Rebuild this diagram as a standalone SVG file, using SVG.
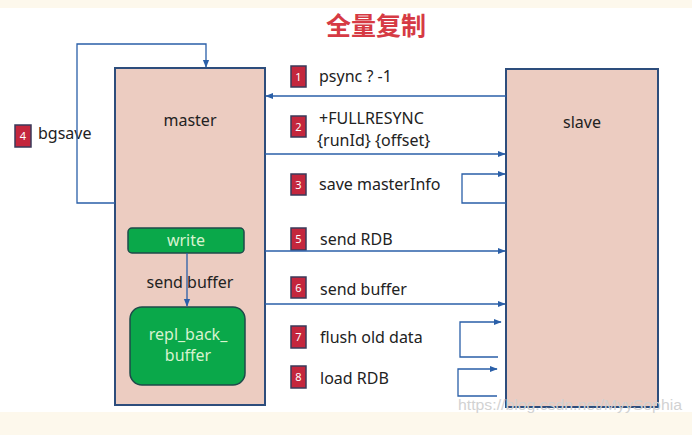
<svg xmlns="http://www.w3.org/2000/svg" width="692" height="435" viewBox="0 0 692 435">
<defs>
<marker id="ah" viewBox="0 0 10 10" refX="9" refY="5" markerWidth="6" markerHeight="6" orient="auto"><path d="M0,1 L10,5 L0,9 z" fill="#2a5fa8"/></marker>
<style>
.box{fill:#ecccc1;stroke:#2d4d7c;stroke-width:2}
.g{fill:#0aa84a;stroke:#1e4a4a;stroke-width:1.5}
.t{font-family:"Noto Sans","Open Sans",sans-serif;font-size:16px;fill:#222}
.gt{font-family:"Noto Sans","Open Sans",sans-serif;font-size:16px;fill:#d8f3cf;text-anchor:middle}
.bd{fill:#c4263d;stroke:#3a3a5a;stroke-width:1.5}
.bn{font-family:"Noto Sans",sans-serif;font-size:11px;fill:#fff;text-anchor:middle}
.c{fill:none;stroke:#2a5fa8;stroke-width:1.3}
</style>
</defs>
<rect width="692" height="435" fill="#ffffff"/>
<rect y="412" width="692" height="23" fill="#fdf8ec"/>
<rect width="692" height="8" fill="#fdf8ec"/>
<text x="376" y="35" text-anchor="middle" font-family="Noto Sans CJK SC,sans-serif" font-size="25" font-weight="bold" fill="#d63a44">全量复制</text>

<g id="master"><rect class="box" x="115" y="68" width="150" height="337"/><text class="t" x="190" y="126" text-anchor="middle">master</text></g>
<g id="slave"><rect class="box" x="506" y="69" width="152" height="338"/><text class="t" x="582" y="128" text-anchor="middle">slave</text></g>
<g id="write"><rect class="g" x="128" y="228" width="116" height="25" rx="4"/><text class="gt" x="186" y="246">write</text></g>
<g id="repl"><rect class="g" x="130" y="307" width="115" height="78" rx="12"/><text class="gt" x="188" y="340">repl_back_</text><text class="gt" x="188" y="361">buffer</text></g>

<g id="labels">
<rect class="bd" x="15" y="125" width="16" height="22"/><text class="bn" x="23" y="140">4</text><text class="t" x="38" y="139">bgsave</text>
<rect class="bd" x="291" y="66" width="15" height="21"/><text class="bn" x="298.5" y="81">1</text><text class="t" x="319" y="82">psync ? -1</text>
<rect class="bd" x="291" y="116" width="15" height="21"/><text class="bn" x="298.5" y="131">2</text><text class="t" x="319" y="124">+FULLRESYNC</text><text class="t" x="317" y="146">{runId} {offset}</text>
<rect class="bd" x="291" y="174" width="15" height="21"/><text class="bn" x="298.5" y="189">3</text><text class="t" x="319" y="190">save masterInfo</text>
<rect class="bd" x="291" y="228" width="15" height="22"/><text class="bn" x="298.5" y="243">5</text><text class="t" x="320" y="245">send RDB</text>
<rect class="bd" x="291" y="277" width="15" height="21"/><text class="bn" x="298.5" y="292">6</text><text class="t" x="320" y="295">send buffer</text>
<rect class="bd" x="291" y="326" width="15" height="22"/><text class="bn" x="298.5" y="341">7</text><text class="t" x="320" y="343">flush old data</text>
<rect class="bd" x="291" y="366" width="15" height="22"/><text class="bn" x="298.5" y="381">8</text><text class="t" x="320" y="384">load RDB</text>
<text class="t" x="190" y="288" text-anchor="middle">send buffer</text>
</g>

<g id="connectors">
<path class="c" d="M115,203 H77 V44 H206 V67" marker-end="url(#ah)"/>
<path class="c" d="M506,96 H266" marker-end="url(#ah)"/>
<path class="c" d="M265,154 H505" marker-end="url(#ah)"/>
<path class="c" d="M506,203 H462 V174 H505" marker-end="url(#ah)"/>
<path class="c" d="M187,253 V306" marker-end="url(#ah)"/>
<path class="c" d="M265,251 H505" marker-end="url(#ah)"/>
<path class="c" d="M265,304 H505" marker-end="url(#ah)"/>
<path class="c" d="M498,357 H460 V322 H501" marker-end="url(#ah)"/>
<path class="c" d="M497,396 H458 V369 H497" marker-end="url(#ah)"/>
</g>
<text x="458" y="410" font-family="Liberation Sans Narrow,Liberation Sans,sans-serif" font-size="14" fill="#d2d2d2" textLength="224" lengthAdjust="spacingAndGlyphs">https://blog.csdn.net/MyySophia</text>
</svg>
